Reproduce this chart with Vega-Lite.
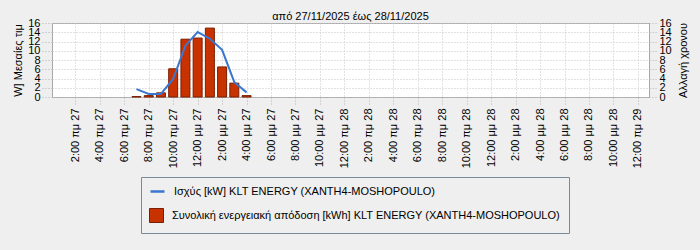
{
  "$schema": "https://vega.github.io/schema/vega-lite/v6.json",
  "autosize": {"type": "none"},
  "padding": {"left": 52, "top": 23, "right": 51, "bottom": 153},
  "width": 597,
  "height": 74,
  "background": "#efefef",
  "title": {"text": "από 27/11/2025 έως 28/11/2025", "fontSize": 11, "fontWeight": "normal", "font": "Liberation Sans", "color": "#000000", "anchor": "middle", "offset": -5},
  "config": {
    "font": "Liberation Sans",
    "view": {"stroke": "#a8a8a8", "fill": "#ffffff", "strokeWidth": 1},
    "axis": {
      "labelFont": "Liberation Sans", "labelFontSize": 11, "labelColor": "#000000",
      "titleFont": "Liberation Sans", "titleFontSize": 11, "titleFontWeight": "normal", "titleColor": "#000000",
      "domain": false, "gridColor": "#c4c4c4", "gridDash": [1, 2], "gridWidth": 1,
      "tickColor": "#b0b0b0", "tickDash": [1, 2]
    },
    "legend": {"labelFont": "Liberation Sans", "titleFont": "Liberation Sans"}
  },
  "data": {"values": [
    {"t": "2025-11-27T07:00:00", "power": 1.7, "energy": 0.1},
    {"t": "2025-11-27T08:00:00", "power": 0.65, "energy": 0.3},
    {"t": "2025-11-27T09:00:00", "power": 0.65, "energy": 0.9},
    {"t": "2025-11-27T10:00:00", "power": 3.9, "energy": 6.1},
    {"t": "2025-11-27T11:00:00", "power": 11.1, "energy": 12.5},
    {"t": "2025-11-27T12:00:00", "power": 14.05, "energy": 12.75},
    {"t": "2025-11-27T13:00:00", "power": 12.6, "energy": 14.9},
    {"t": "2025-11-27T14:00:00", "power": 10.2, "energy": 6.5},
    {"t": "2025-11-27T15:00:00", "power": 3.2, "energy": 3.0},
    {"t": "2025-11-27T16:00:00", "power": 1.0, "energy": 0.3}
  ]},
  "encoding": {
    "x": {
      "field": "t", "type": "temporal",
      "scale": {"domain": [{"year": 2025, "month": 11, "date": 27, "hours": 0, "minutes": 30}, {"year": 2025, "month": 11, "date": 29, "hours": 0, "minutes": 30}]},
      "axis": {
        "title": null,
        "values": [
          {"year": 2025, "month": 11, "date": 27, "hours": 2},
          {"year": 2025, "month": 11, "date": 27, "hours": 4},
          {"year": 2025, "month": 11, "date": 27, "hours": 6},
          {"year": 2025, "month": 11, "date": 27, "hours": 8},
          {"year": 2025, "month": 11, "date": 27, "hours": 10},
          {"year": 2025, "month": 11, "date": 27, "hours": 12},
          {"year": 2025, "month": 11, "date": 27, "hours": 14},
          {"year": 2025, "month": 11, "date": 27, "hours": 16},
          {"year": 2025, "month": 11, "date": 27, "hours": 18},
          {"year": 2025, "month": 11, "date": 27, "hours": 20},
          {"year": 2025, "month": 11, "date": 27, "hours": 22},
          {"year": 2025, "month": 11, "date": 28, "hours": 0},
          {"year": 2025, "month": 11, "date": 28, "hours": 2},
          {"year": 2025, "month": 11, "date": 28, "hours": 4},
          {"year": 2025, "month": 11, "date": 28, "hours": 6},
          {"year": 2025, "month": 11, "date": 28, "hours": 8},
          {"year": 2025, "month": 11, "date": 28, "hours": 10},
          {"year": 2025, "month": 11, "date": 28, "hours": 12},
          {"year": 2025, "month": 11, "date": 28, "hours": 14},
          {"year": 2025, "month": 11, "date": 28, "hours": 16},
          {"year": 2025, "month": 11, "date": 28, "hours": 18},
          {"year": 2025, "month": 11, "date": 28, "hours": 20},
          {"year": 2025, "month": 11, "date": 28, "hours": 22},
          {"year": 2025, "month": 11, "date": 29, "hours": 0}
        ],
        "labelAngle": -90, "tickSize": 7, "labelPadding": 4, "labelOverlap": false,
        "labelExpr": "timeFormat(datum.value, '%-I:%M') + ' ' + (hours(datum.value) < 12 ? 'πμ' : 'μμ') + ' ' + timeFormat(datum.value, '%d')"
      }
    }
  },
  "layer": [
    {
      "mark": {"type": "bar", "width": 9, "stroke": "#7a1e00", "strokeWidth": 1},
      "encoding": {
        "y": {"field": "energy", "type": "quantitative", "scale": {"domain": [0, 16]},
          "axis": {"orient": "right", "title": "Αλλαγή χρονου", "titleAngle": -90, "titleBaseline": "top", "values": [0,2,4,6,8,10,12,14,16], "labelOverlap": false, "grid": false, "tickSize": 8, "labelPadding": 2, "titlePadding": 6}},
        "fill": {"datum": "Συνολική ενεργειακή απόδοση [kWh] KLT ENERGY (XANTH4-MOSHOPOULO)",
          "scale": {"range": ["#c83200"]},
          "legend": {
            "title": " ", "titleFontSize": 11, "titlePadding": 12,
            "orient": "none", "legendX": 89, "legendY": 154,
            "direction": "vertical", "padding": 8,
            "strokeColor": "#7a8a9a", "fillColor": "#efefef",
            "labelFontSize": 11, "labelColor": "#000000", "labelLimit": 500, "labelOffset": 8,
            "symbolSize": 196, "symbolType": "square", "symbolStrokeColor": "#7a1e00", "symbolStrokeWidth": 1
          }}
      }
    },
    {
      "mark": {"type": "line", "strokeWidth": 2},
      "encoding": {
        "y": {"field": "power", "type": "quantitative", "scale": {"domain": [0, 16]},
          "axis": {"orient": "left", "title": "W] Μεσαίες τιμ", "values": [0,2,4,6,8,10,12,14,16], "labelOverlap": false, "grid": true, "tickSize": 10, "labelPadding": 2, "titlePadding": 4}},
        "stroke": {"datum": "Ισχύς [kW] KLT ENERGY (XANTH4-MOSHOPOULO)",
          "scale": {"range": ["#3a76d0"]},
          "legend": {
            "title": null, "orient": "none", "legendX": 97, "legendY": 160,
            "direction": "vertical", "padding": 0,
            "labelFontSize": 11, "labelColor": "#000000", "labelLimit": 500, "labelOffset": 8,
            "symbolSize": 196, "symbolType": "stroke", "symbolStrokeWidth": 2.5
          }}
      }
    }
  ],
  "resolve": {"scale": {"y": "independent"}}
}
